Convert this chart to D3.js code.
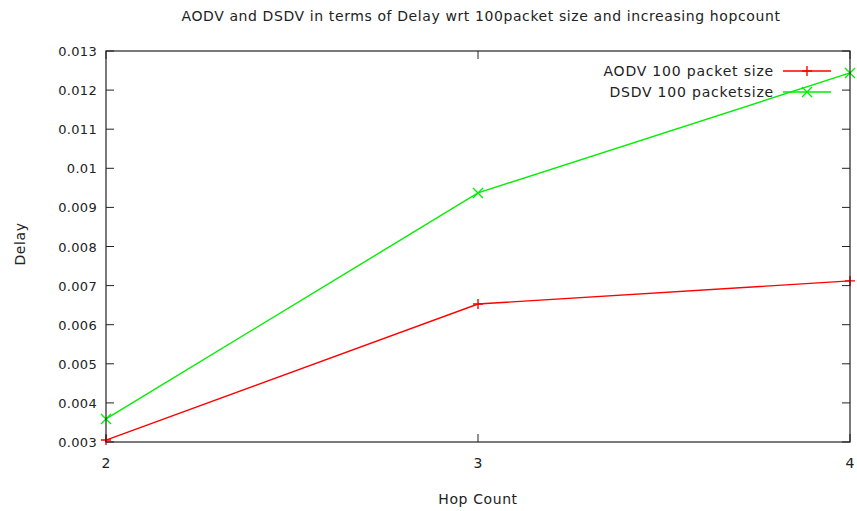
<!DOCTYPE html>
<html>
  <head>
    <script src="https://cdn.jsdelivr.net/npm/d3@7/dist/d3.min.js"></script>
    <style>
      body { margin: 0; background: #fff; }
      text { font-family: 'DejaVu Sans', sans-serif; fill: #222; }
    </style>
  </head>
  <body>
    <svg width="857" height="511"></svg>
    <script>
      // data
      const hops = [2, 3, 4]
      const aodv = [0.00305, 0.00653, 0.00712]
      const dsdv = [0.00359, 0.00937, 0.01244]
      const yTicks = [0.003, 0.004, 0.005, 0.006, 0.007, 0.008, 0.009, 0.01, 0.011, 0.012, 0.013]
      const xTicks = [2, 3, 4]
      const seriesNames = ['AODV 100 packet size', 'DSDV 100 packetsize']
      const colors = ['#ff0000', '#00ee00']

      const svg = d3.select('svg')
      const plotLeft = 106, plotRight = 850, plotTop = 51, plotBottom = 442

      const x = d3.scaleLinear().domain([2, 4]).range([plotLeft, plotRight])
      const y = d3.scaleLinear().domain([0.003, 0.013]).range([plotBottom, plotTop])

      // title
      svg.append('text')
        .attr('x', 481).attr('y', 21)
        .attr('text-anchor', 'middle')
        .style('font-size', '14px')
        .style('letter-spacing', '0.6px')
        .text('AODV and DSDV in terms of Delay wrt 100packet size and increasing hopcount')

      // ticks (inward, mirrored like gnuplot)
      const tickG = svg.append('g').attr('stroke', '#222').attr('stroke-width', 1)
      yTicks.forEach((t) => {
        tickG.append('line').attr('x1', plotLeft).attr('x2', plotLeft + 8).attr('y1', y(t)).attr('y2', y(t))
        tickG.append('line').attr('x1', plotRight).attr('x2', plotRight - 8).attr('y1', y(t)).attr('y2', y(t))
      })
      xTicks.forEach((t) => {
        tickG.append('line').attr('x1', x(t)).attr('x2', x(t)).attr('y1', plotBottom).attr('y2', plotBottom - 8)
        tickG.append('line').attr('x1', x(t)).attr('x2', x(t)).attr('y1', plotTop).attr('y2', plotTop + 8)
      })

      svg.append('g').selectAll('text').data(yTicks).enter().append('text')
        .attr('x', plotLeft - 9).attr('y', (d) => y(d) + 5)
        .attr('text-anchor', 'end')
        .style('font-size', '13px')
        .style('letter-spacing', '0.3px')
        .text((d) => d)

      svg.append('g').selectAll('text').data(xTicks).enter().append('text')
        .attr('x', (d) => x(d)).attr('y', plotBottom + 26)
        .attr('text-anchor', 'middle')
        .style('font-size', '14px')
        .text((d) => d)

      // axis labels
      svg.append('text')
        .attr('transform', 'translate(25,244) rotate(-90)')
        .attr('text-anchor', 'middle')
        .style('font-size', '14px')
        .style('letter-spacing', '0.6px')
        .text('Delay')
      svg.append('text')
        .attr('x', 478).attr('y', 504)
        .attr('text-anchor', 'middle')
        .style('font-size', '14px')
        .style('letter-spacing', '0.6px')
        .text('Hop Count')

      // lines
      const line = d3.line().x((d, i) => x(hops[i])).y((d) => y(d))
      const all = [aodv, dsdv]
      all.forEach((vals, k) => {
        svg.append('path')
          .attr('d', line(vals))
          .attr('fill', 'none')
          .attr('stroke', colors[k])
          .attr('stroke-width', 1.4)
      })

      function plus(cx, cy) {
        return `M${cx - 5},${cy}L${cx + 5},${cy}M${cx},${cy - 5}L${cx},${cy + 5}`
      }
      function cross(cx, cy) {
        return `M${cx - 5},${cy - 5}L${cx + 5},${cy + 5}M${cx - 5},${cy + 5}L${cx + 5},${cy - 5}`
      }
      const markers = [plus, cross]
      all.forEach((vals, k) => {
        svg.append('g').selectAll('path').data(vals).enter().append('path')
          .attr('d', (d, i) => markers[k](x(hops[i]), y(d)))
          .attr('stroke', colors[k])
          .attr('stroke-width', 1.4)
      })

      // frame
      svg.append('rect')
        .attr('x', plotLeft).attr('y', plotTop)
        .attr('width', plotRight - plotLeft).attr('height', plotBottom - plotTop)
        .attr('fill', 'none').attr('stroke', '#222').attr('stroke-width', 1.2)

      // legend
      const legend = svg.append('g')
      seriesNames.forEach((name, k) => {
        const ly = 71 + k * 21
        legend.append('text')
          .attr('x', 774).attr('y', ly + 5)
          .attr('text-anchor', 'end')
          .style('font-size', '14px')
          .style('letter-spacing', '0.8px')
          .text(name)
        legend.append('line')
          .attr('x1', 783).attr('x2', 831).attr('y1', ly).attr('y2', ly)
          .attr('stroke', colors[k]).attr('stroke-width', 1.4)
        legend.append('path')
          .attr('d', markers[k](807, ly))
          .attr('stroke', colors[k]).attr('stroke-width', 1.4)
      })
    </script>
  </body>
</html>
